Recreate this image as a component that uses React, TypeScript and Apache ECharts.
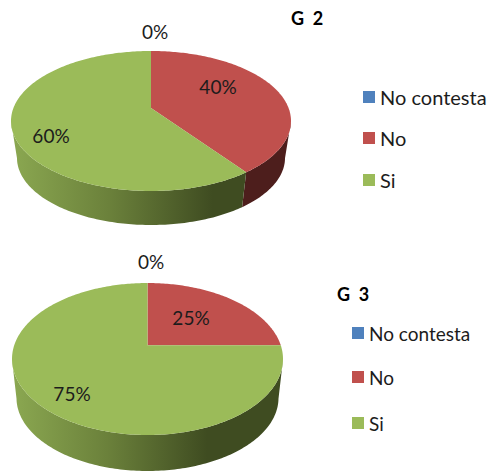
import React, { useEffect, useRef } from "react";
import * as echarts from "echarts";

const categories = ["No contesta", "No", "Si"];
const g2Values = [0, 40, 60];
const g3Values = [0, 25, 75];
const colors = ["#4f81bd", "#c0504d", "#9bbb59"];
const wallDark = ["#27405e", "#4d1e1c", ""];
const titles = ["G  2", "G  3"];

const pieLayouts = [
  {
    top: { cx: 151, cy: 121, rx: 140, ry: 70 },
    bottom: { cx: 151, cy: 158, rx: 134, ry: 67 },
    persp: 0.186,
    labels: [[155, 31], [218, 86], [51, 135]],
    title: [291, 18],
    legendX: 363,
    legendTextX: 380,
    legendFont: 20,
    legendY: [97, 138, 180],
  },
  {
    top: { cx: 147.5, cy: 359, rx: 135.5, ry: 76 },
    bottom: { cx: 147.5, cy: 398, rx: 131, ry: 73 },
    persp: 0.18,
    labels: [[151, 261], [191, 317], [72, 393]],
    title: [337, 294],
    legendX: 352,
    legendTextX: 369,
    legendFont: 19,
    legendY: [333, 377, 423],
  },
];

const FONT = "Lato, Carlito, 'Noto Sans', sans-serif";
const TEXT = "#1c1c1c";

// Perspective map of a circle angle on to the tilted disc.
function project(t: number, a: number) {
  const s = Math.sin(t);
  const c = Math.cos(t);
  const d = 1 + a * c;
  return { u: (s * Math.sqrt(1 - a * a)) / d, v: (c + a) / d };
}

function makeSeries(values: number[], layout: any, name: string) {
  const total = values.reduce((p, q) => p + q, 0);
  const starts: number[] = [];
  values.reduce((acc, v, i) => {
    starts[i] = acc;
    return acc + v;
  }, 0);
  const { top, bottom, persp } = layout;
  const at = (e: any, p: any) => [e.cx + e.rx * p.u, e.cy - e.ry * p.v];
  return {
    type: "custom",
    name,
    coordinateSystem: "none",
    silent: true,
    data: values.map((v, i) => ({ value: [v, i], name: categories[i] })),
    renderItem: (params: any, api: any) => {
      const i = params.dataIndex;
      const v = api.value(0);
      const t0 = (starts[i] / total) * Math.PI * 2;
      const t1 = ((starts[i] + v) / total) * Math.PI * 2;
      const children: any[] = [];
      if (v > 0) {
        const n = Math.max(2, Math.ceil(((t1 - t0) * 180) / Math.PI));
        const face: number[][] = [[top.cx, top.cy - top.ry * persp]];
        const wallTop: number[][] = [];
        const wallBottom: number[][] = [];
        for (let k = 0; k <= n; k++) {
          const p = project(t0 + ((t1 - t0) * k) / n, persp);
          face.push(at(top, p));
          if (p.v <= 0) {
            wallTop.push(at(top, p));
            wallBottom.push(at(bottom, p));
          }
        }
        if (wallTop.length > 1) {
          const x0 = top.cx - top.rx;
          const w = top.rx * 2;
          const fill = wallDark[i]
            ? wallDark[i]
            : new echarts.graphic.LinearGradient(
                x0,
                0,
                x0 + w,
                0,
                [
                  { offset: 0, color: "#8ba851" },
                  { offset: 0.35, color: "#6b813b" },
                  { offset: 0.72, color: "#3f4c21" },
                  { offset: 1, color: "#3f4c21" },
                ],
                true
              );
          children.push({
            type: "polygon",
            shape: { points: wallTop.concat(wallBottom.reverse()) },
            style: { fill, stroke: null },
          });
        }
        children.push({
          type: "polygon",
          shape: { points: face },
          style: { fill: colors[i], stroke: null },
        });
      }
      children.push({
        type: "text",
        z2: 10,
        style: {
          text: `${Math.round((v / total) * 100)}%`,
          x: layout.labels[i][0],
          y: layout.labels[i][1],
          align: "center",
          verticalAlign: "middle",
          fontFamily: FONT,
          fontSize: 19,
          fill: TEXT,
        },
      });
      return { type: "group", children };
    },
  };
}

function legendGraphics(layout: any) {
  const out: any[] = [];
  categories.forEach((c, i) => {
    out.push({
      type: "rect",
      shape: { x: layout.legendX, y: layout.legendY[i] - 6, width: 12, height: 12 },
      style: { fill: colors[i] },
    });
    out.push({
      type: "text",
      style: {
        text: c,
        x: layout.legendTextX,
        y: layout.legendY[i],
        align: "left",
        verticalAlign: "middle",
        fontFamily: FONT,
        fontSize: layout.legendFont,
        fill: TEXT,
      },
    });
  });
  return out;
}

export default function App() {
  const ref = useRef<HTMLDivElement>(null);
  useEffect(() => {
    const chart = echarts.init(ref.current!, null, { renderer: "svg" });
    chart.setOption({
      animation: false,
      backgroundColor: "#ffffff",
      title: pieLayouts.map((l, i) => ({
        text: titles[i],
        left: l.title[0],
        top: l.title[1] - 10,
        padding: 0,
        textStyle: {
          fontFamily: FONT,
          fontSize: 18,
          fontWeight: "bold",
          color: "#000000",
          lineHeight: 20,
        },
      })),
      series: [makeSeries(g2Values, pieLayouts[0], "G 2"), makeSeries(g3Values, pieLayouts[1], "G 3")],
      graphic: pieLayouts.flatMap(legendGraphics),
    });
    return () => chart.dispose();
  }, []);
  return <div ref={ref} style={{ position: "absolute", left: 0, top: 0, width: 487, height: 471 }} />;
}
